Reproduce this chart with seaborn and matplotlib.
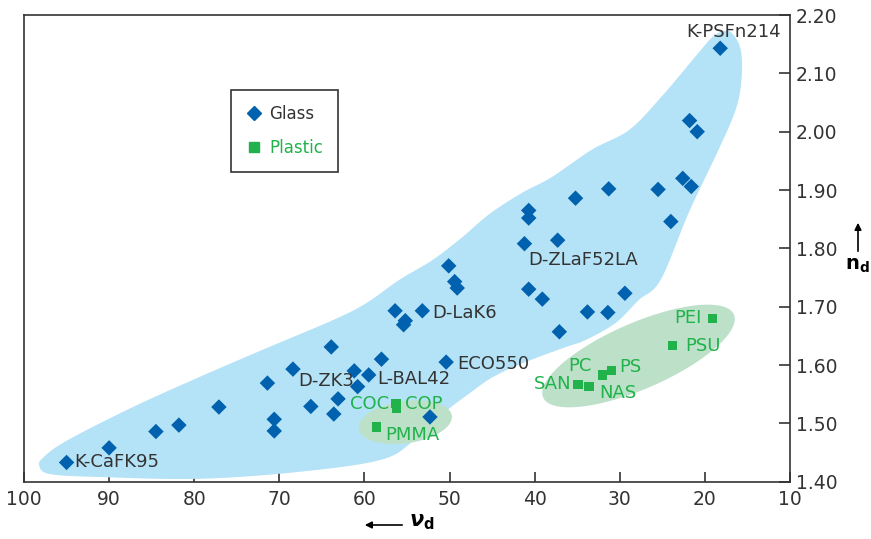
import numpy as np
import pandas as pd
import matplotlib
matplotlib.use("Agg")
import matplotlib.pyplot as plt
import seaborn as sns
from matplotlib.lines import Line2D

# Glass: Abbe number (v_d) and refractive index (n_d)
glass_abbe = [95.0, 90.0, 84.5, 81.8, 77.1, 71.4, 68.4, 70.6, 70.6, 66.3,
              63.6, 63.1, 63.9, 61.2, 60.8, 59.5, 58.0, 56.4, 55.2, 55.4,
              53.2, 50.4, 52.3, 50.1, 49.4, 49.1, 40.7, 40.7, 41.2, 37.3,
              40.7, 39.1, 35.2, 31.3, 25.5, 37.1, 33.8, 31.4, 29.4, 22.6,
              21.6, 24.0, 21.8, 20.9, 18.2]
glass_nd = [1.433, 1.458, 1.486, 1.497, 1.528, 1.569, 1.593, 1.507, 1.487, 1.529,
            1.516, 1.542, 1.631, 1.590, 1.563, 1.583, 1.610, 1.693, 1.676, 1.669,
            1.693, 1.605, 1.511, 1.770, 1.743, 1.732, 1.865, 1.852, 1.808, 1.814,
            1.730, 1.713, 1.886, 1.902, 1.901, 1.657, 1.691, 1.690, 1.723, 1.920,
            1.906, 1.846, 2.019, 2.000, 2.143]
glass_names = ["K-CaFK95", "", "", "", "", "", "", "", "", "",
               "", "", "", "", "D-ZK3", "L-BAL42", "", "", "", "",
               "D-LaK6", "ECO550", "", "", "", "", "", "", "", "D-ZLaF52LA",
               "", "", "", "", "", "", "", "", "", "",
               "", "", "", "", "K-PSFn214"]

# Plastics
plastic_names = ["COC", "COP", "PMMA", "PEI", "PSU", "PS", "PC", "SAN", "NAS"]
plastic_abbe = [56.3, 56.2, 58.6, 19.1, 23.8, 31.0, 32.0, 34.9, 33.6]
plastic_nd = [1.534, 1.526, 1.494, 1.680, 1.633, 1.591, 1.583, 1.567, 1.563]

# Outline of the glass region
region_abbe = [98.2, 97.7, 94.9, 87.2, 79.3, 71.5, 63.7, 59.8, 55.9, 52.0,
               48.6, 45.3, 41.5, 38.0, 33.3, 28.9, 25.1, 21.1, 19.2, 18.0,
               16.9, 15.8, 15.7, 16.4, 18.4, 21.9, 25.2, 27.8, 30.5, 34.0,
               36.3, 39.5, 42.6, 45.3, 47.7, 50.4, 54.4, 58.2, 67.6, 79.3,
               91.0, 96.9]
region_nd = [1.427, 1.442, 1.471, 1.528, 1.580, 1.629, 1.677, 1.706, 1.746, 1.780,
             1.818, 1.859, 1.895, 1.922, 1.969, 2.003, 2.060, 2.129, 2.161, 2.171,
             2.170, 2.141, 2.089, 2.037, 1.969, 1.861, 1.746, 1.711, 1.672, 1.643,
             1.631, 1.614, 1.596, 1.576, 1.551, 1.521, 1.468, 1.437, 1.417, 1.405,
             1.408, 1.413]

# Plastic regions: centre (v_d, n_d)
plastic_groups = [(55.2, 1.502), (27.8, 1.6155)]

BLUE = "#0062ae"
GREEN = "#21b24b"
DARK = "#333333"

glass = pd.DataFrame({"abbe": glass_abbe, "nd": glass_nd, "name": glass_names, "type": "Glass"})
plastic = pd.DataFrame({"abbe": plastic_abbe, "nd": plastic_nd, "name": plastic_names, "type": "Plastic"})
df = pd.concat([glass, plastic], ignore_index=True)

sns.set_style("white")
plt.rcParams["font.family"] = ["DejaVu Sans"]
plt.rcParams["font.size"] = 13

fig = plt.figure(figsize=(8.71, 5.39), dpi=100)
ax = fig.add_axes([24 / 871, 1 - 481.7 / 539, 766 / 871, 466.7 / 539])
ax.set_xlim(100, 10)
ax.set_ylim(1.40, 2.20)

# pixels per data unit
sx = 766 / 90.0
sy = 466.7 / 0.8


def closed_spline(xs, ys, n=30):
    # Catmull-Rom through outline vertices
    p = np.column_stack([xs, ys])
    m = len(p)
    out = []
    for i in range(m):
        p0, p1, p2, p3 = p[i - 1], p[i], p[(i + 1) % m], p[(i + 2) % m]
        t = np.linspace(0, 1, n, endpoint=False)[:, None]
        seg = 0.5 * ((2 * p1) + (-p0 + p2) * t + (2 * p0 - 5 * p1 + 4 * p2 - p3) * t ** 2
                     + (-p0 + 3 * p1 - 3 * p2 + p3) * t ** 3)
        out.append(seg)
    out = np.vstack(out)
    return out[:, 0], out[:, 1]


rx, ry = closed_spline(region_abbe, region_nd)
ax.fill(rx, ry, color="#b4e2f6", lw=0, zorder=1)


def ellipse(center, a_px, b_px, angle_deg):
    t = np.linspace(0, 2 * np.pi, 200)
    u = a_px * np.cos(t)
    v = b_px * np.sin(t)
    th = np.deg2rad(angle_deg)
    dx = u * np.cos(th) - v * np.sin(th)
    dy = u * np.sin(th) + v * np.cos(th)
    return center[0] - dx / sx, center[1] + dy / sy


ex, ey = ellipse(plastic_groups[0], 47, 21, 8)
ax.fill(ex, ey, color="#bce1c8", lw=0, zorder=2)
ex, ey = ellipse(plastic_groups[1], 104, 33, 23.5)
ax.fill(ex, ey, color="#bce1c8", lw=0, zorder=2)

sns.scatterplot(data=df, x="abbe", y="nd", hue="type", style="type",
                palette={"Glass": BLUE, "Plastic": GREEN},
                markers={"Glass": "D", "Plastic": "s"},
                size="type", sizes={"Glass": 62, "Plastic": 46},
                linewidth=0, legend=False, ax=ax, zorder=3)

# label offsets in pixels (dx, dy, ha)
offsets = {
    "K-CaFK95": (8, 0, "left"), "K-PSFn214": (13, 16, "center"),
    "D-ZLaF52LA": (25, -20, "center"), "D-LaK6": (10, -2, "left"),
    "ECO550": (11, -2, "left"), "L-BAL42": (9, -4, "left"),
    "D-ZK3": (-4, 6, "right"),
    "COC": (-7, 0, "right"), "COP": (8, 4, "left"), "PMMA": (9, -8, "left"),
    "PEI": (-11, 0, "right"), "PSU": (13, 0, "left"), "PS": (8, 3, "left"),
    "PC": (-11, 9, "right"), "SAN": (-7, 0, "right"), "NAS": (10, -6, "left"),
}
for _, row in df.iterrows():
    if row["name"] == "":
        continue
    dx, dy, ha = offsets[row["name"]]
    col = DARK if row["type"] == "Glass" else GREEN
    ax.annotate(row["name"], (row["abbe"], row["nd"]), xytext=(dx * 0.72, dy * 0.72),
                textcoords="offset points", ha=ha, va="center",
                color=col, fontsize=13, zorder=4)

# axes styling
for s in ax.spines.values():
    s.set_color(DARK)
    s.set_linewidth(1.2)
ax.set_xticks(range(100, 9, -10))
ax.set_yticks(np.arange(1.40, 2.201, 0.10))
ax.set_yticklabels([f"{v:.2f}" for v in np.arange(1.40, 2.201, 0.10)])
ax.yaxis.tick_right()
ax.tick_params(axis="x", direction="in", length=7, width=1.2, color=DARK,
               labelcolor=DARK, labelsize=13.5, pad=6, bottom=True)
ax.tick_params(axis="y", direction="in", length=8, width=1.2, color=DARK,
               labelcolor=DARK, labelsize=13.5, pad=4, right=True, left=False)
ax.set_xlabel("")
ax.set_ylabel("")

# legend
handles = [Line2D([], [], marker="D", ls="", color=BLUE, markersize=7.5, label="Glass"),
           Line2D([], [], marker="s", ls="", color=GREEN, markersize=6.5, label="Plastic")]
leg = ax.legend(handles=handles, loc="upper left", bbox_to_anchor=(0.27, 0.84),
                fancybox=False, framealpha=1, edgecolor=DARK, borderpad=0.9,
                labelspacing=0.95, handletextpad=0.4, handlelength=1.0,
                borderaxespad=0, labelcolor=[DARK, GREEN], fontsize=12)
leg.get_frame().set_linewidth(1.2)

# axis labels with arrows
fig.patches.append(matplotlib.patches.FancyArrowPatch(
    (405 / 871, 1 - 525 / 539), (362 / 871, 1 - 525 / 539), transform=fig.transFigure,
    arrowstyle="-|>", mutation_scale=10, color="black", lw=1.2))
fig.text(409 / 871, 1 - 522 / 539, r"$\boldsymbol{\nu}_{\mathbf{d}}$", fontsize=15,
         ha="left", va="center", color="black")
fig.patches.append(matplotlib.patches.FancyArrowPatch(
    (858 / 871, 1 - 254 / 539), (858 / 871, 1 - 220 / 539), transform=fig.transFigure,
    arrowstyle="-|>", mutation_scale=10, color="black", lw=1.2))
fig.text(857 / 871, 1 - 266 / 539, r"$\mathbf{n_d}$", fontsize=14,
         ha="center", va="center", color="black")

fig.savefig("out.png", dpi=100)
